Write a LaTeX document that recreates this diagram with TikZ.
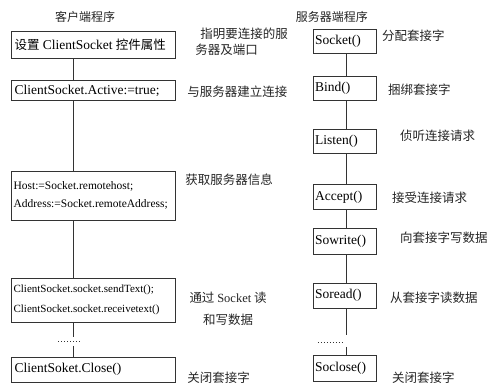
\documentclass[tikz,border=0pt]{standalone}
\usepackage{fontspec}
\setmainfont{Liberation Serif}
\newfontfamily\cjk{Noto Sans CJK SC}
\newcommand{\lt}[1]{\makebox[158pt][l]{#1}}
\newcommand{\rt}[1]{\makebox[59pt][l]{#1}}
\begin{document}
\begin{tikzpicture}[x=1pt,y=-1pt,
  every path/.style={line width=0.6pt, draw=black!80},
  lbox/.style={draw, anchor=north west, inner xsep=0pt, inner ysep=0pt,
    minimum width=164pt, font=\fontsize{13.5}{16}\selectfont},
  lboxm/.style={draw, anchor=north west, inner xsep=2pt, inner ysep=0pt,
    text width=160pt, align=left},
  rbox/.style={draw, anchor=north west, inner xsep=0pt, inner ysep=0pt,
    minimum width=63pt, font=\fontsize{13.5}{16}\selectfont},
  note/.style={anchor=west, inner sep=0pt, font=\cjk\fontsize{12.5}{17}\selectfont, text=black!85},
  head/.style={inner sep=0pt, font=\cjk\fontsize{12}{14}\selectfont, text=black!85},
  dotline/.style={line width=0.8pt, dash pattern=on 0.8pt off 2.2pt}
]
\useasboundingbox (0,0) rectangle (496,385);
\fill[white] (0,0) rectangle (496,385);

% headings
\node[head] (h1) at (85,17) {客户端程序};
\node[head] (h2) at (332,17) {服务器端程序};

% client boxes
\node[lbox, minimum height=27pt] (b1) at (11,31) {\lt{{\cjk\fontsize{12.5}{16}\selectfont 设置} ClientSocket {\cjk\fontsize{12.5}{16}\selectfont 控件属性}}};
\node[lbox, minimum height=20pt] (b2) at (11,80) {\lt{ClientSocket.Active:=true;}};
\node[lboxm, minimum height=49pt, font=\fontsize{11.5}{18}\selectfont] (b3) at (11,171) {Host:=Socket.remotehost;\\Address:=Socket.remoteAddress;};
\node[lboxm, minimum height=44pt, font=\fontsize{11}{20}\selectfont] (b4) at (11,278) {ClientSocket.socket.sendText();\\ClientSocket.socket.receivetext()};
\node[lbox, minimum height=25pt] (b5) at (11,357) {\lt{ClientSoket.Close()}};

% server boxes
\node[rbox, minimum height=24pt] (s1) at (313,29) {\rt{Socket()}};
\node[rbox, minimum height=24pt] (s2) at (313,76) {\rt{Bind()}};
\node[rbox, minimum height=24pt] (s3) at (313,129) {\rt{Listen()}};
\node[rbox, minimum height=25pt] (s4) at (313,184) {\rt{Accept()}};
\node[rbox, minimum height=26pt] (s5) at (313,228) {\rt{Sowrite()}};
\node[rbox, minimum height=25pt] (s6) at (313,283) {\rt{Soread()}};
\node[rbox, minimum height=26pt] (s7) at (313,355) {\rt{Soclose()}};

% connector guide coordinates
\coordinate (lx) at (73,0);
\coordinate (rx) at (346,0);
\coordinate (ld1) at (73,337);
\coordinate (ld2) at (73,346);
\coordinate (ldA) at (58,342);
\coordinate (ldB) at (81,342);
\coordinate (rd1) at (346,335);
\coordinate (rd2) at (346,347);
\coordinate (rdA) at (318,343);
\coordinate (rdB) at (344,343);

% client connectors
\draw (b1.south -| lx) -- (b2.north -| lx);
\draw (b2.south -| lx) -- (b3.north -| lx);
\draw (b3.south -| lx) -- (b4.north -| lx);
\draw (b4.south -| lx) -- (ld1);
\draw[dotline] (ldA) -- (ldB);
\draw (ld2) -- (b5.north -| lx);

% server connectors
\draw (s1.south -| rx) -- (s2.north -| rx);
\draw (s2.south -| rx) -- (s3.north -| rx);
\draw (s3.south -| rx) -- (s4.north -| rx);
\draw (s4.south -| rx) -- (s5.north -| rx);
\draw (s5.south -| rx) -- (s6.north -| rx);
\draw (s6.south -| rx) -- (rd1);
\draw[dotline] (rdA) -- (rdB);
\draw (rd2) -- (s7.north -| rx);

% client notes
\node[note, align=left] (a1) at (195,41.5) {\hspace{5pt}指明要连接的服\\务器及端口};
\node[note] (a2) at (187,92) {与服务器建立连接};
\node[note] (a3) at (185,180) {获取服务器信息};
\node[note, anchor=center, align=center, font=\cjk\fontsize{12.5}{22}\selectfont] (a4) at (228,309) {通过 {\rmfamily Socket} 读\\和写数据};
\node[note] (a5) at (187,378) {关闭套接字};

% server notes
\node[note] (r1) at (382,35) {分配套接字};
\node[note] (r2) at (388,90) {捆绑套接字};
\node[note] (r3) at (400,136) {侦听连接请求};
\node[note] (r4) at (392,198) {接受连接请求};
\node[note] (r5) at (400,238) {向套接字写数据};
\node[note] (r6) at (390,298) {从套接字读数据};
\node[note] (r7) at (392,378) {关闭套接字};
\end{tikzpicture}
\end{document}
